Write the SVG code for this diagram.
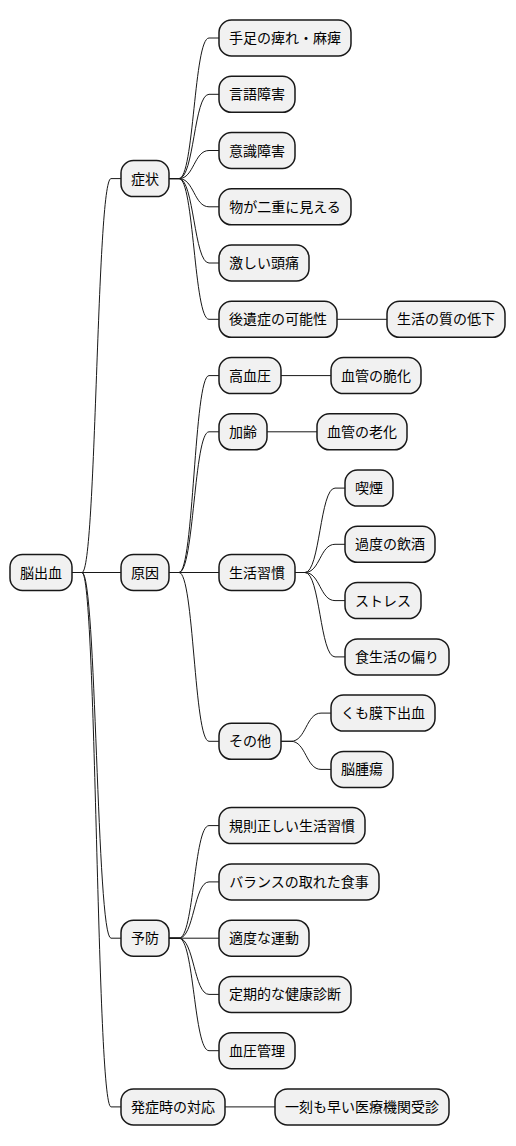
<svg xmlns="http://www.w3.org/2000/svg" width="516" height="1146" viewBox="0 0 516 1146">
<style>
.n rect{fill:#F1F1F1;stroke:#181818;stroke-width:1.5}
.n text{font-family:"Noto Sans CJK JP","Noto Sans CJK SC",sans-serif;font-size:14px;fill:#000;text-anchor:middle}
#edges path{fill:none;stroke:#181818;stroke-width:1}
</style>
<rect width="516" height="1146" fill="#FFFFFF"/>
<g id="edges">
<path d="M72,572.5 H82 C96.5,572.5 96.5,178.6 111,178.6 H121"/>
<path d="M72,572.5 H121"/>
<path d="M72,572.5 H82 C96.5,572.5 96.5,938.2 111,938.2 H121"/>
<path d="M72,572.5 H82 C96.5,572.5 96.5,1106.9 111,1106.9 H121"/>
<path d="M169,178.6 H179 C194,178.6 194,38 209,38 H219"/>
<path d="M169,178.6 H179 C194,178.6 194,94.3 209,94.3 H219"/>
<path d="M169,178.6 H179 C194,178.6 194,150.5 209,150.5 H219"/>
<path d="M169,178.6 H179 C194,178.6 194,206.8 209,206.8 H219"/>
<path d="M169,178.6 H179 C194,178.6 194,263 209,263 H219"/>
<path d="M169,178.6 H179 C194,178.6 194,319.3 209,319.3 H219"/>
<path d="M337,319.3 H387"/>
<path d="M169,572.5 H179 C194,572.5 194,375.6 209,375.6 H219"/>
<path d="M169,572.5 H179 C194,572.5 194,431.8 209,431.8 H219"/>
<path d="M169,572.5 H219"/>
<path d="M169,572.5 H179 C194,572.5 194,741.3 209,741.3 H219"/>
<path d="M281,375.6 H331"/>
<path d="M267,431.8 H317"/>
<path d="M295,572.5 H305 C320,572.5 320,488.1 335,488.1 H345"/>
<path d="M295,572.5 H305 C320,572.5 320,544.3 335,544.3 H345"/>
<path d="M295,572.5 H305 C320,572.5 320,600.6 335,600.6 H345"/>
<path d="M295,572.5 H305 C320,572.5 320,656.9 335,656.9 H345"/>
<path d="M281,741.3 H291 C306,741.3 306,713.1 321,713.1 H331"/>
<path d="M281,741.3 H291 C306,741.3 306,769.4 321,769.4 H331"/>
<path d="M169,938.2 H179 C194,938.2 194,825.6 209,825.6 H219"/>
<path d="M169,938.2 H179 C194,938.2 194,881.9 209,881.9 H219"/>
<path d="M169,938.2 H219"/>
<path d="M169,938.2 H179 C194,938.2 194,994.4 209,994.4 H219"/>
<path d="M169,938.2 H179 C194,938.2 194,1050.7 209,1050.7 H219"/>
<path d="M225,1106.9 H275"/>
</g>
<g id="root" class="n"><rect x="10" y="554.5" width="62" height="36" rx="12.5"/><text x="41" y="577.5">脳出血</text></g>
<g id="n-shojo" class="n"><rect x="121" y="160.6" width="48" height="36" rx="12.5"/><text x="145" y="183.6">症状</text></g>
<g id="n-gen-in" class="n"><rect x="121" y="554.5" width="48" height="36" rx="12.5"/><text x="145" y="577.5">原因</text></g>
<g id="n-yobo" class="n"><rect x="121" y="920.2" width="48" height="36" rx="12.5"/><text x="145" y="943.2">予防</text></g>
<g id="n-taio" class="n"><rect x="121" y="1088.9" width="104" height="36" rx="12.5"/><text x="173" y="1111.9">発症時の対応</text></g>
<g id="n-s1" class="n"><rect x="219" y="20" width="132" height="36" rx="12.5"/><text x="285" y="43">手足の痺れ・麻痺</text></g>
<g id="n-s2" class="n"><rect x="219" y="76.3" width="76" height="36" rx="12.5"/><text x="257" y="99.3">言語障害</text></g>
<g id="n-s3" class="n"><rect x="219" y="132.5" width="76" height="36" rx="12.5"/><text x="257" y="155.5">意識障害</text></g>
<g id="n-s4" class="n"><rect x="219" y="188.8" width="132" height="36" rx="12.5"/><text x="285" y="211.8">物が二重に見える</text></g>
<g id="n-s5" class="n"><rect x="219" y="245" width="90" height="36" rx="12.5"/><text x="264" y="268">激しい頭痛</text></g>
<g id="n-s6" class="n"><rect x="219" y="301.3" width="118" height="36" rx="12.5"/><text x="278" y="324.3">後遺症の可能性</text></g>
<g id="n-s6a" class="n"><rect x="387" y="301.3" width="118" height="36" rx="12.5"/><text x="446" y="324.3">生活の質の低下</text></g>
<g id="n-c1" class="n"><rect x="219" y="357.6" width="62" height="36" rx="12.5"/><text x="250" y="380.6">高血圧</text></g>
<g id="n-c1a" class="n"><rect x="331" y="357.6" width="90" height="36" rx="12.5"/><text x="376" y="380.6">血管の脆化</text></g>
<g id="n-c2" class="n"><rect x="219" y="413.8" width="48" height="36" rx="12.5"/><text x="243" y="436.8">加齢</text></g>
<g id="n-c2a" class="n"><rect x="317" y="413.8" width="90" height="36" rx="12.5"/><text x="362" y="436.8">血管の老化</text></g>
<g id="n-c3" class="n"><rect x="219" y="554.5" width="76" height="36" rx="12.5"/><text x="257" y="577.5">生活習慣</text></g>
<g id="n-c3a" class="n"><rect x="345" y="470.1" width="48" height="36" rx="12.5"/><text x="369" y="493.1">喫煙</text></g>
<g id="n-c3b" class="n"><rect x="345" y="526.3" width="90" height="36" rx="12.5"/><text x="390" y="549.3">過度の飲酒</text></g>
<g id="n-c3c" class="n"><rect x="345" y="582.6" width="76" height="36" rx="12.5"/><text x="383" y="605.6">ストレス</text></g>
<g id="n-c3d" class="n"><rect x="345" y="638.9" width="104" height="36" rx="12.5"/><text x="397" y="661.9">食生活の偏り</text></g>
<g id="n-c4" class="n"><rect x="219" y="723.3" width="62" height="36" rx="12.5"/><text x="250" y="746.3">その他</text></g>
<g id="n-c4a" class="n"><rect x="331" y="695.1" width="104" height="36" rx="12.5"/><text x="383" y="718.1">くも膜下出血</text></g>
<g id="n-c4b" class="n"><rect x="331" y="751.4" width="62" height="36" rx="12.5"/><text x="362" y="774.4">脳腫瘍</text></g>
<g id="n-p1" class="n"><rect x="219" y="807.6" width="146" height="36" rx="12.5"/><text x="292" y="830.6">規則正しい生活習慣</text></g>
<g id="n-p2" class="n"><rect x="219" y="863.9" width="160" height="36" rx="12.5"/><text x="299" y="886.9">バランスの取れた食事</text></g>
<g id="n-p3" class="n"><rect x="219" y="920.2" width="90" height="36" rx="12.5"/><text x="264" y="943.2">適度な運動</text></g>
<g id="n-p4" class="n"><rect x="219" y="976.4" width="132" height="36" rx="12.5"/><text x="285" y="999.4">定期的な健康診断</text></g>
<g id="n-p5" class="n"><rect x="219" y="1032.7" width="76" height="36" rx="12.5"/><text x="257" y="1055.7">血圧管理</text></g>
<g id="n-t1" class="n"><rect x="275" y="1088.9" width="174" height="36" rx="12.5"/><text x="362" y="1111.9">一刻も早い医療機関受診</text></g>
</svg>
